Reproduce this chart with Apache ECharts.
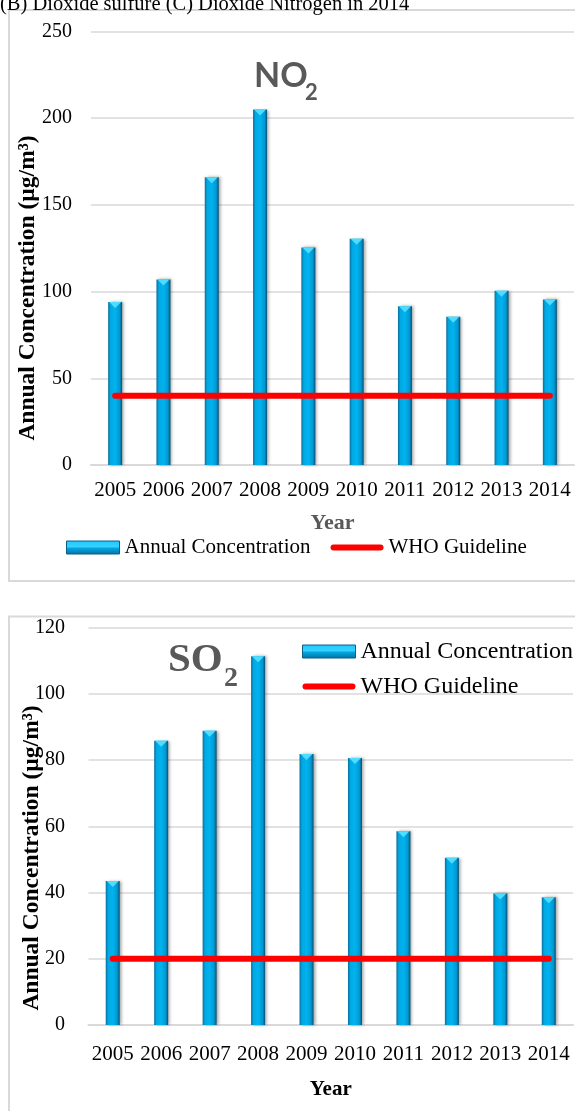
<!DOCTYPE html>
<html>
<head>
<meta charset="utf-8">
<script src="https://cdn.jsdelivr.net/npm/echarts@6/dist/echarts.min.js"></script>
<style>
html,body{margin:0;padding:0;background:#fff;}
#c{width:575px;height:1111px;}
</style>
</head>
<body>
<div id="c"></div>
<script>
const years = ['2005','2006','2007','2008','2009','2010','2011','2012','2013','2014'];
const no2Values = [94, 107, 166, 205, 125.5, 130.5, 91.5, 85.5, 100.5, 95.5];
const no2Guideline = [40, 40, 40, 40, 40, 40, 40, 40, 40, 40];
const so2Values = [43.5, 85.8, 88.8, 111.3, 81.8, 80.6, 58.5, 50.5, 39.7, 38.6];
const so2Guideline = [20, 20, 20, 20, 20, 20, 20, 20, 20, 20];
const no2Axis = {min: 0, max: 250, interval: 50};
const so2Axis = {min: 0, max: 120, interval: 20};
const seriesNames = ['Annual Concentration', 'WHO Guideline'];
const caption = '(B) Dioxide sulfure (C) Dioxide Nitrogen in 2014';
const yTitle = 'Annual Concentration (µg/m³)';
const xTitle = 'Year';

const SERIF = '"Liberation Serif", "Times New Roman", serif';
const barGrad = {type:'linear', x:0, y:0, x2:1, y2:0, colorStops:[
  {offset:0, color:'#0a6f9e'}, {offset:0.18, color:'#00a9e4'},
  {offset:0.5, color:'#00b3ef'}, {offset:0.82, color:'#0098d2'}, {offset:1, color:'#064f70'}]};
const legendBarGrad = {type:'linear', x:0, y:0, x2:0, y2:1, colorStops:[
  {offset:0, color:'#1ec8ff'}, {offset:0.45, color:'#36d2ff'}, {offset:0.55, color:'#00a6e0'}, {offset:1, color:'#0a6f9e'}]};
const capPath = 'path://M0,0 L12,0 L6,6 Z';
const lineIcon = 'path://M3,0 L50,0 A3,3 0 0 1 50,6 L3,6 A3,3 0 0 1 3,0 Z';

const chart = echarts.init(document.getElementById('c'), null, {renderer:'canvas'});

function yAxisCfg(idx, ax, margin){
  return {type:'value', gridIndex: idx, min: ax.min, max: ax.max, interval: ax.interval,
    axisLine:{show:false}, axisTick:{show:false},
    axisLabel:{fontFamily: SERIF, fontSize: 20, color:'#000', margin: margin},
    splitLine:{lineStyle:{color:'#d9d9d9', width:1.5}}};
}
function xAxisCfg(idx, margin, nameGap, nameColor, nameSize){
  return {type:'category', gridIndex: idx, data: years,
    axisLine:{lineStyle:{color:'#d9d9d9', width:2}}, axisTick:{show:false},
    axisLabel:{fontFamily: SERIF, fontSize: 21, color:'#000', margin: margin, interval:0},
    name: xTitle, nameLocation:'middle', nameGap: nameGap,
    nameTextStyle:{fontFamily: SERIF, fontSize: nameSize, fontWeight:'bold', color: nameColor}};
}
function barSeries(idx, values){
  return {type:'bar', name: seriesNames[0], xAxisIndex: idx, yAxisIndex: idx, data: values,
    barWidth: 14, z: 2,
    itemStyle:{color: barGrad, shadowBlur: 3, shadowColor:'rgba(0,0,0,0.35)', shadowOffsetX: 2}};
}
function capSeries(idx, values){
  return {type:'pictorialBar', name:'cap'+idx, xAxisIndex: idx, yAxisIndex: idx, data: values,
    symbol: capPath, symbolSize:[12, 6], symbolPosition:'end', barGap:'-100%', barWidth: 14,
    z: 3, silent: true, itemStyle:{color:'#4fdcff'}};
}
function lineSeries(idx, values){
  return {type:'line', name: seriesNames[1], xAxisIndex: idx, yAxisIndex: idx, data: values,
    symbol:'none', z: 4, lineStyle:{color:'#ff0000', width: 6, cap:'round'}, itemStyle:{color:'#ff0000'}};
}
function legendData(){
  return [{name: seriesNames[0], icon:'rect', itemStyle:{color: legendBarGrad, borderColor:'#0a5f86', borderWidth:1}},
          {name: seriesNames[1], icon: lineIcon, itemStyle:{color:'#ff0000', borderWidth:0}}];
}

const option = {
  backgroundColor:'#fff',
  animation:false,
  grid:[
    {left: 91, right: 1, top: 31.5, bottom: 646},
    {left: 88.5, right: 2, top: 627.5, bottom: 86}
  ],
  xAxis:[ xAxisCfg(0, 15, 47, '#595959', 22), xAxisCfg(1, 19, 54, '#000', 21) ],
  yAxis:[ yAxisCfg(0, no2Axis, 19), yAxisCfg(1, so2Axis, 23.5) ],
  legend:[
    {left: 66, top: 537, padding: 0, orient:'horizontal', itemGap: 20, itemWidth: 53, itemHeight: 13,
     textStyle:{fontFamily: SERIF, fontSize: 21, color:'#000'}, data: legendData()},
    {left: 302, top: 639.5, padding: 0, orient:'vertical', itemGap: 11, itemWidth: 53, itemHeight: 13,
     textStyle:{fontFamily: SERIF, fontSize: 24, color:'#000'}, data: legendData()}
  ],
  series:[
    barSeries(0, no2Values), capSeries(0, no2Values), lineSeries(0, no2Guideline),
    barSeries(1, so2Values), capSeries(1, so2Values), lineSeries(1, so2Guideline)
  ],
  graphic:[
    {type:'rect', shape:{x:9, y:10, width:600, height:571}, style:{fill:'none', stroke:'#d9d9d9', lineWidth:2}, z:-1, silent:true},
    {type:'rect', shape:{x:9, y:616.5, width:600, height:600}, style:{fill:'none', stroke:'#d9d9d9', lineWidth:2}, z:-1, silent:true},
    {type:'text', x:0, y:5, style:{text: caption, font:'20.5px "Liberation Serif"', fill:'#000', textVerticalAlign:'middle'}},
    {type:'text', x:28, y:288, rotation: Math.PI/2,
     style:{text: yTitle, font:'bold 23.5px "Liberation Serif"', fill:'#000', textAlign:'center', textVerticalAlign:'middle'}},
    {type:'text', x:32, y:858, rotation: Math.PI/2,
     style:{text: yTitle, font:'bold 23.5px "Liberation Serif"', fill:'#000', textAlign:'center', textVerticalAlign:'middle'}},
    {type:'text', x:254, y:93, style:{text:'NO', font:'bold 34px Lato', fill:'#595959', textVerticalAlign:'bottom'}},
    {type:'text', x:305, y:104, style:{text:'2', font:'bold 22px Lato', fill:'#595959', textVerticalAlign:'bottom'}},
    {type:'text', x:168, y:681, style:{text:'SO', font:'bold 41px "Liberation Serif"', fill:'#595959', textVerticalAlign:'bottom'}},
    {type:'text', x:224, y:693, style:{text:'2', font:'bold 28px "Liberation Serif"', fill:'#595959', textVerticalAlign:'bottom'}}
  ]
};
chart.setOption(option);
</script>
</body>
</html>
